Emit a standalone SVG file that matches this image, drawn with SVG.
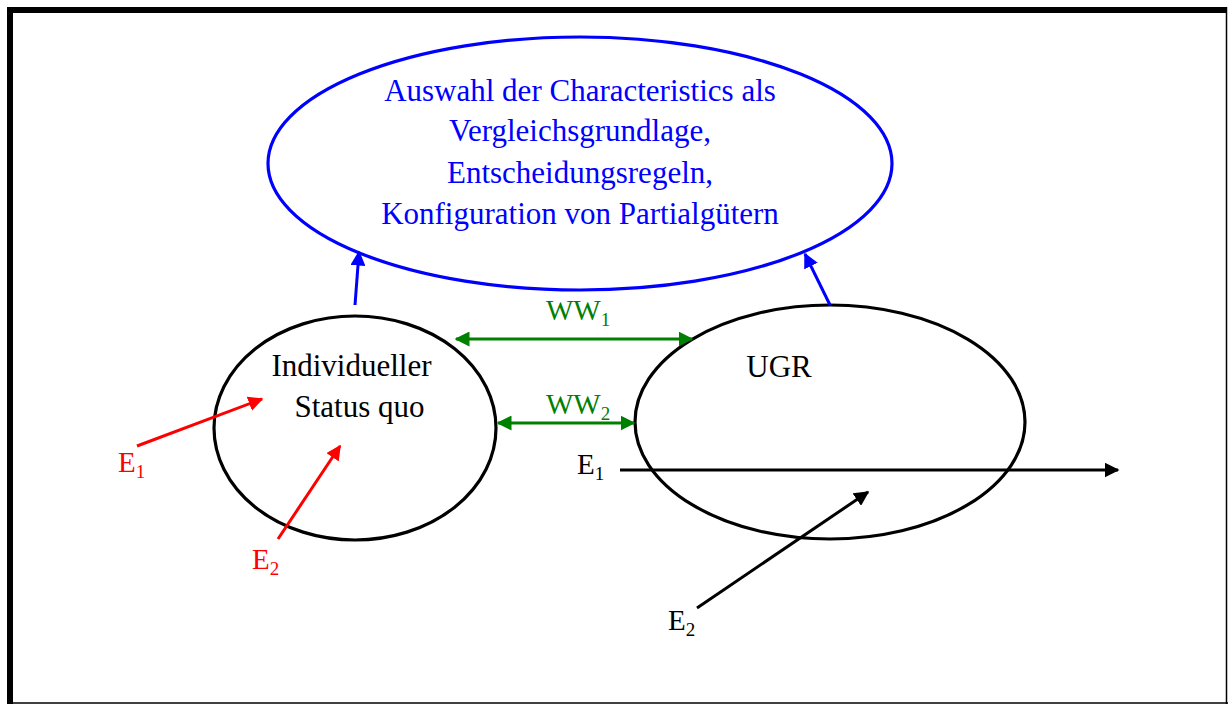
<svg xmlns="http://www.w3.org/2000/svg" width="1228" height="704" viewBox="0 0 1228 704">
<defs>
<style>
text{font-family:"Liberation Serif","Times New Roman",serif;font-size:31px}
.lbl{font-size:29px}
.blue{fill:#0000FF}
.green{fill:#008000}
.red{fill:#FF0000}
.blk{fill:#000}
.sub{font-size:19px}
</style>
<marker id="ab" viewBox="0 0 10 10" refX="9" refY="5" markerWidth="5" markerHeight="5" orient="auto" markerUnits="strokeWidth"><path d="M0,0L10,5L0,10z" fill="#0000FF"/></marker>
<marker id="ag" viewBox="0 0 10 10" refX="9" refY="5" markerWidth="5" markerHeight="5" orient="auto-start-reverse" markerUnits="strokeWidth"><path d="M0,0L10,5L0,10z" fill="#008000"/></marker>
<marker id="ar" viewBox="0 0 10 10" refX="9" refY="5" markerWidth="5" markerHeight="5" orient="auto" markerUnits="strokeWidth"><path d="M0,0L10,5L0,10z" fill="#FF0000"/></marker>
<marker id="ak" viewBox="0 0 10 10" refX="9" refY="5" markerWidth="5" markerHeight="5" orient="auto" markerUnits="strokeWidth"><path d="M0,0L10,5L0,10z" fill="#000"/></marker>
</defs>
<rect width="1228" height="704" fill="#fff"/>
<g id="frame">
<rect x="7" y="7" width="1220" height="6" fill="#000"/>
<rect x="7" y="7" width="6" height="697" fill="#000"/>
<line x1="1226.5" y1="7" x2="1226.5" y2="704" stroke="#000" stroke-width="1.5"/>
<line x1="7" y1="703" x2="1228" y2="703" stroke="#000" stroke-width="1.5"/>
</g>
<g id="node-auswahl">
<ellipse cx="580" cy="163.5" rx="312" ry="126.5" fill="none" stroke="#0000FF" stroke-width="3.2"/>
<text class="blue" x="580" y="101" text-anchor="middle">Auswahl der Characteristics als</text>
<text class="blue" x="580" y="141" text-anchor="middle">Vergleichsgrundlage,</text>
<text class="blue" x="580" y="183" text-anchor="middle">Entscheidungsregeln,</text>
<text class="blue" x="580" y="224" text-anchor="middle">Konfiguration von Partialgütern</text>
</g>
<g id="node-statusquo">
<ellipse cx="355" cy="428" rx="141" ry="112" fill="none" stroke="#000" stroke-width="3.2"/>
<text class="blk" x="351.5" y="376" text-anchor="middle">Individueller</text>
<text class="blk" x="359.5" y="417" text-anchor="middle">Status quo</text>
</g>
<g id="node-ugr">
<ellipse cx="830" cy="422" rx="195" ry="117" fill="none" stroke="#000" stroke-width="3.2"/>
<text class="blk" x="779" y="377" text-anchor="middle">UGR</text>
</g>
<g id="connectors" fill="none" stroke-width="3">
<line x1="355" y1="305" x2="359" y2="252" stroke="#0000FF" marker-end="url(#ab)"/>
<line x1="830" y1="305" x2="805" y2="254" stroke="#0000FF" marker-end="url(#ab)"/>
<line x1="456" y1="339" x2="692" y2="339" stroke="#008000" marker-start="url(#ag)" marker-end="url(#ag)"/>
<line x1="498" y1="423" x2="634" y2="423" stroke="#008000" marker-start="url(#ag)" marker-end="url(#ag)"/>
<line x1="137" y1="446" x2="262" y2="399" stroke="#FF0000" marker-end="url(#ar)"/>
<line x1="278" y1="539" x2="340" y2="446" stroke="#FF0000" marker-end="url(#ar)"/>
<line x1="620" y1="470" x2="1118" y2="470" stroke="#000" marker-end="url(#ak)"/>
<line x1="697" y1="608" x2="868" y2="492" stroke="#000" marker-end="url(#ak)"/>
</g>
<g id="labels">
<text class="green lbl" x="546" y="320">WW<tspan class="sub" dy="6">1</tspan></text>
<text class="green lbl" x="546" y="414">WW<tspan class="sub" dy="6">2</tspan></text>
<text class="red lbl" x="118" y="472">E<tspan class="sub" dy="6">1</tspan></text>
<text class="red lbl" x="252" y="569">E<tspan class="sub" dy="6">2</tspan></text>
<text class="blk lbl" x="577" y="474">E<tspan class="sub" dy="6">1</tspan></text>
<text class="blk lbl" x="668" y="630">E<tspan class="sub" dy="6">2</tspan></text>
</g>
</svg>
